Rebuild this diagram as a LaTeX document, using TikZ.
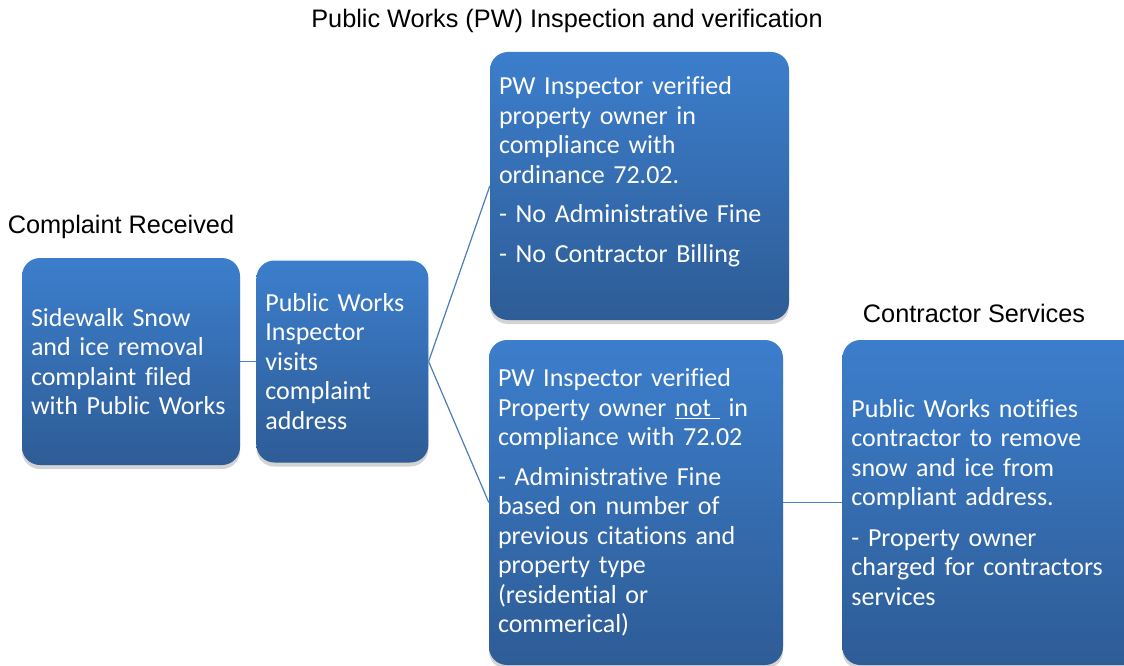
\documentclass[tikz,border=0pt]{standalone}
\usepackage{fontspec}
\setmainfont[Ligatures=NoCommon]{Carlito}
\newfontfamily\headfont{Liberation Sans}
\usetikzlibrary{positioning,shadows}
\definecolor{boxTop}{RGB}{60,126,204}
\definecolor{boxBottom}{RGB}{46,92,150}
\definecolor{linkBlue}{RGB}{74,126,187}

\begin{document}
\begin{tikzpicture}[x=1pt,y=-1pt]
  \tikzstyle{stage} = [rounded corners=18pt, top color=boxTop, bottom color=boxBottom, text=white, align=left, inner xsep=9pt, inner ysep=4pt, font={\fontsize{26}{29.5}\selectfont}, drop shadow={shadow xshift=0pt, shadow yshift=-4pt, opacity=0.35}]
  \tikzstyle{heading} = [font={\headfont\fontsize{25.3}{28}\selectfont}];
  \tikzstyle{link} = [linkBlue, line width=1.2pt];

  \useasboundingbox (0,0) rectangle (1124,666);

  \node[heading] (pwTitle) at (567,21)  {Public Works (PW) Inspection and verification};
  \node[heading] (crTitle) at (121,227) {Complaint Received};
  \node[heading] (csTitle) at (974,313) {Contractor Services};

  \node[stage, text width=200pt, minimum height=207pt] (A) at (131,361.5) {Sidewalk Snow\\and ice removal\\complaint filed\\with Public Works};
  \node[stage, text width=154pt, minimum height=202pt, right=16pt of A] (B) {Public Works\\Inspector\\visits\\complaint\\address};
  \node[stage, text width=281pt, minimum height=268pt] (C) at (639.5,186) {PW Inspector verified\\property owner in\\compliance with\\ordinance 72.02.\\[10pt]- No Administrative Fine\\[10pt]- No Contractor Billing\par\vspace*{29pt}};
  \node[stage, text width=276pt, minimum height=325pt] (D) at (636,502.5) {PW Inspector verified\\Property owner \underline{not\ } in\\compliance with 72.02\\[10pt]- Administrative Fine\\based on number of\\previous citations and\\property type\\(residential or\\commerical)};
  \node[stage, text width=282pt, minimum height=325pt, right=59pt of D] (E) {Public Works notifies\\contractor to remove\\snow and ice from\\compliant address.\\[11pt]- Property owner\\charged for contractors\\services};

  \draw[link] (A.east) -- (B.west);
  \draw[link] (B.east) -- (C.west);
  \draw[link] (B.east) -- (D.west);
  \draw[link] (D.east) -- (E.west);
\end{tikzpicture}
\end{document}
